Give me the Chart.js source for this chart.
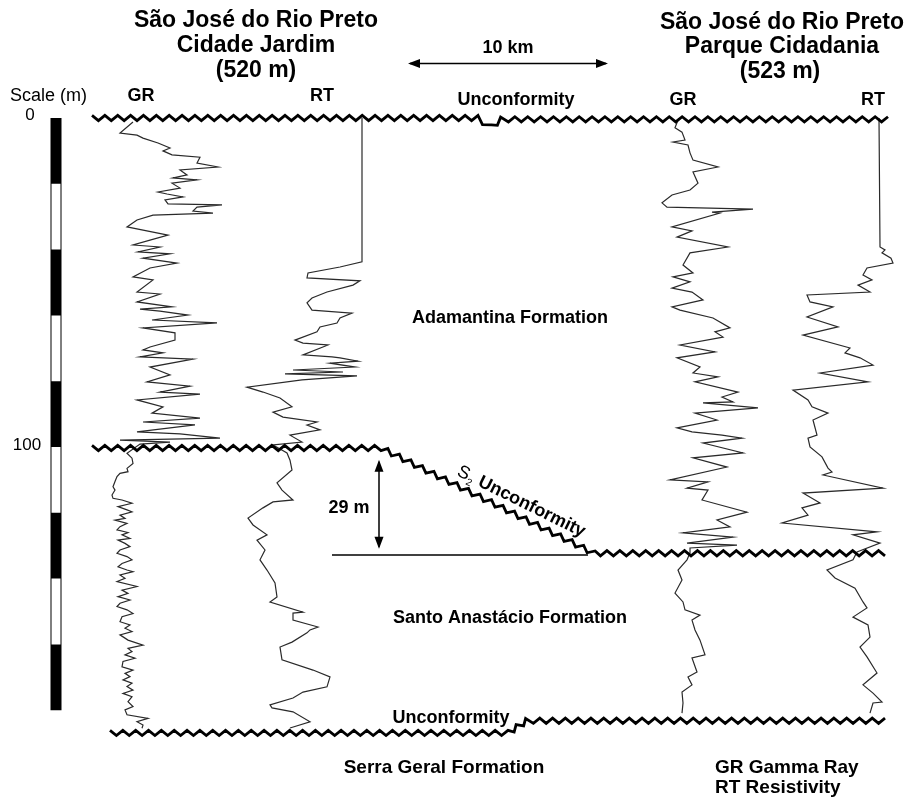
<!DOCTYPE html>
<html>
<head>
<meta charset="utf-8">
<script src="https://cdn.jsdelivr.net/npm/chart.js@4.4.1/dist/chart.umd.min.js"></script>
<style>
html,body{margin:0;padding:0;background:#fff;}
#wrap{width:908px;height:797px;position:relative;}
</style>
</head>
<body>
<div id="wrap"><canvas id="c"></canvas></div>
<script>
// ---------------- DATA (depth in metres, log deflection in track units) ----------------
const scaleSegments = [0, 20, 40, 60, 80, 100, 120, 140, 160, 180];
const scaleTickLabels = ["0", "100"];
const scaleTickDepths = [0, 100];

// Well 1: São José do Rio Preto - Cidade Jardim
const leftGRDepth = [1.2,4.6,5.2,6.1,7.6,9.1,10.0,11.2,11.9,13.7,14.9,15.8,17.3,18.2,18.8,19.8,21.3,22.5,23.1,24.0,24.9,26.1,26.4,27.1,28.3,28.9,29.5,31.0,33.1,35.6,37.1,38.6,39.2,40.7,41.3,42.6,44.1,45.6,48.3,49.2,52.9,53.5,55.9,57.4,58.1,58.7,59.9,61.4,62.3,63.8,65.3,67.5,69.6,70.5,71.4,72.6,73.3,75.7,78.1,80.2,81.5,83.3,83.9,85.7,87.8,89.7,91.2,92.4,93.3,95.4,96.0,97.3,97.9,98.5,99.1,
  101.9,103.4,105.0,106.5,107.5,108.0,109.0,110.5,112.1,113.1,114.6,115.6,116.1,117.1,118.1,119.1,119.7,120.7,121.7,122.2,123.2,124.2,125.2,126.0,126.7,127.8,128.3,129.3,130.3,131.3,132.3,133.3,134.3,135.4,136.4,137.4,137.9,138.9,139.9,140.9,142.4,143.5,144.5,145.5,146.5,147.5,148.5,149.5,150.6,151.6,153.1,154.1,155.1,156.1,157.1,158.7,160.2,161.2,162.2,163.2,164.2,165.2,166.8,167.8,168.8,169.8,170.8,171.8,172.8,173.9,174.9,175.9,177.4,178.9,179.9,181.4,182.5,183.5,184.5,185.5];
const leftGRValue = [33,20,37,43,58,70,63,72,100,97,118,80,87,73,97,72,80,58,67,83,65,68,122,97,93,113,53,37,27,68,50,33,60,38,70,43,77,50,33,53,37,60,37,72,40,60,88,52,117,43,75,75,50,43,63,40,93,50,70,47,90,60,100,37,63,52,100,43,95,37,80,120,20,70,40,
  27,32,33,27,28,20,17,15,13,15,12,13,22,32,18,27,32,20,25,15,27,20,17,28,22,30,18,25,30,20,17,27,32,22,18,27,33,20,25,17,37,22,28,18,30,20,17,27,33,22,20,30,25,32,20,28,43,28,32,25,35,23,22,33,25,30,23,32,27,33,23,32,28,33,25,27,48,37,43,42];

const leftRTDepth = [0,43.7,45.3,47.1,48.6,49.5,50.8,52.9,54.7,56.2,58.4,59.3,60.8,62.3,63.5,65.0,67.5,68.4,69.0,72.0,72.6,72.9,73.9,74.5,75.7,76.6,77.2,77.8,78.4,79.6,81.8,83.3,85.1,87.8,89.4,90.9,92.4,93.3,94.8,96.4,98.5,99.4,
  101.8,104.0,107.0,110.9,113.1,116.1,116.7,118.5,121.6,123.7,126.7,128.3,131.3,134.3,137.4,141.3,145.6,147.1,150.2,150.5,152.6,154.7,155.6,156.5,159.3,160.8,164.7,167.8,169.9,172.9,174.5,176.3,178.4,179.3,180.5,183.5,185.4];
const leftRTValue = [122,122,100,68,67,120,113,87,72,67,72,112,100,97,80,77,55,63,88,63,92,100,118,90,115,53,103,45,117,62,7,23,40,52,33,43,77,67,80,50,62,33,
  47,50,52,37,42,53,33,23,8,13,27,17,25,20,27,35,37,30,63,53,53,78,70,67,52,40,42,73,90,87,63,53,30,32,53,70,50];

// Well 2: São José do Rio Preto - Parque Cidadania
const rightGRDepth = [0.6,3.0,4.3,6.7,7.3,8.2,10.6,12.8,14.9,16.4,19.8,21.9,23.4,25.8,27.1,27.7,28.6,28.9,33.1,34.3,36.2,39.2,41.0,44.7,47.1,48.3,49.8,51.7,52.9,55.3,57.4,58.4,60.8,63.8,65.0,66.6,69.0,71.1,72.9,75.7,77.5,78.7,80.2,83.3,84.8,86.3,86.6,88.1,89.7,91.8,94.2,95.4,96.4,97.3,98.8,101.8,103.3,106.1,110.0,110.6,112.5,113.1,116.1,119.8,122.2,124.3,126.1,127.4,129.2,129.8,130.7,
  132.2,134.3,137.4,140.4,144.4,147.1,149.5,151.1,152.6,155.6,158.7,163.2,164.1,168.4,169.9,172.3,174.5,177.8,180.9];
const rightGRValue = [28,25,32,35,23,38,40,43,68,43,48,40,22,12,17,103,62,70,22,42,27,78,40,33,43,23,40,22,42,53,22,30,63,80,65,73,30,65,27,50,43,68,45,88,72,83,53,108,45,67,27,42,72,92,53,93,43,77,20,58,37,58,52,97,67,80,33,83,37,87,40,
  40,37,28,32,25,33,35,50,42,45,50,55,42,47,38,42,32,33,32];

const rightRTDepth = [0,39.2,40.1,41.0,42.6,44.1,45.6,47.7,49.2,50.8,52.9,53.8,55.9,57.4,60.5,63.5,66.0,69.9,71.4,72.9,75.1,77.5,80.2,82.7,85.7,87.8,89.7,91.8,96.4,97.3,100.0,103.0,106.4,107.6,108.5,112.5,114.0,117.0,118.5,120.7,123.1,125.8,126.7,129.2,
  131.9,134.3,137.4,139.8,142.9,147.1,148.9,151.7,154.1,157.8,160.8,163.8,168.7,172.3,174.8,177.5,177.8,180.9];
const rightRTValue = [109,110,115,112,121,123,97,93,102,88,100,37,40,63,37,68,33,80,75,90,103,50,98,23,38,42,58,43,47,38,40,52,58,62,53,113,33,50,32,38,12,107,83,110,
  87,83,57,65,85,93,97,83,98,100,90,97,107,93,103,112,103,100];

// Unconformity surfaces: [horizontal position, depth]
const topUnconformityX = [92, 478, 490, 502, 888];
const topUnconformityDepth = [0, 0, 2.7, 0.4, 0.4];
const s2UnconformityX = [92, 381, 594, 885];
const s2UnconformityDepth = [100.3, 100.3, 132.3, 132.3];
const baseUnconformityX = [110, 508, 527, 885];
const baseUnconformityDepth = [186.9, 186.9, 183.2, 183.2];

// ---------------- LAYOUT / STYLE ----------------
const PX_PER_M = 3.29, TOP_PX = 118, H = 797, W = 908;
const tracks = { leftGR: 100, leftRT: 240, rightGR: 650, rightRT: 770 };
const FONT = "'Liberation Sans', Arial, Helvetica, sans-serif";
const LOG_COLOR = '#2a2a2a';

function curve(depths, values, base) {
  return depths.map((d, i) => ({ x: base + values[i], y: d }));
}
function pairs(xs, ds) { return xs.map((x, i) => ({ x: x, y: ds[i] })); }

const datasets = [];
// scale bar: black full bar (drawn beneath), white alternate segments on top
const SCALE_X = 56;
datasets.push({ data: [{x:SCALE_X,y:scaleSegments[0]},{x:SCALE_X,y:scaleSegments[scaleSegments.length-1]}],
  borderColor:'#000', borderWidth:11, borderCapStyle:'butt', order: 5 });
for (let i = 1; i < scaleSegments.length - 1; i += 2) {
  datasets.push({ data: [{x:SCALE_X,y:scaleSegments[i]},{x:SCALE_X,y:scaleSegments[i+1]}],
    borderColor:'#fff', borderWidth:9, borderCapStyle:'butt', order: 4 });
}
// logs
[[leftGRDepth,leftGRValue,tracks.leftGR],[leftRTDepth,leftRTValue,tracks.leftRT],
 [rightGRDepth,rightGRValue,tracks.rightGR],[rightRTDepth,rightRTValue,tracks.rightRT]].forEach(a => {
  datasets.push({ data: curve(a[0], a[1], a[2]), borderColor: LOG_COLOR, borderWidth: 1.2 });
});
// reference line (29 m datum)
datasets.push({ data: [{x:332,y:132.8},{x:588,y:132.8}], borderColor:'#000', borderWidth:1.5 });
// arrows
datasets.push({ data: [{x:379,y:104.5},{x:379,y:130.3}], borderColor:'#000', borderWidth:1.5, arrow:true });
datasets.push({ data: [{x:410,y:-16.6},{x:606,y:-16.6}], borderColor:'#000', borderWidth:1.5, arrow:true });
// unconformities (drawn as zig-zag by plugin)
[[topUnconformityX,topUnconformityDepth],[s2UnconformityX,s2UnconformityDepth],[baseUnconformityX,baseUnconformityDepth]].forEach(a => {
  datasets.push({ data: pairs(a[0], a[1]), borderColor:'rgba(0,0,0,0)', borderWidth:0, zigzag:true });
});

const labels = [
  { t:'São José do Rio Preto', x:256, y:-29.6, size:23, bold:true },
  { t:'Cidade Jardim', x:256, y:-22.0, size:23, bold:true },
  { t:'(520 m)', x:256, y:-14.4, size:23, bold:true },
  { t:'São José do Rio Preto', x:782, y:-29.0, size:23, bold:true },
  { t:'Parque Cidadania', x:782, y:-21.7, size:23, bold:true },
  { t:'(523 m)', x:780, y:-14.1, size:23, bold:true },
  { t:'10 km', x:508, y:-21.2, size:18, bold:true },
  { t:'Scale (m)', x:10, y:-6.7, size:18, bold:false, align:'left' },
  { t:'GR', x:141, y:-6.7, size:18, bold:true },
  { t:'RT', x:322, y:-6.7, size:18, bold:true },
  { t:'Unconformity', x:516, y:-5.6, size:18, bold:true },
  { t:'GR', x:683, y:-5.5, size:18, bold:true },
  { t:'RT', x:873, y:-5.5, size:18, bold:true },
  { t:'Adamantina Formation', x:510, y:60.8, size:18, bold:true },
  { t:'Santo Anastácio Formation', x:510, y:152.0, size:18, bold:true },
  { t:'29 m', x:349, y:118.5, size:18, bold:true },
  { t:'Unconformity', x:451, y:182.4, size:18, bold:true },
  { t:'Serra Geral Formation', x:444, y:197.6, size:19, bold:true },
  { t:'GR Gamma Ray', x:715, y:197.6, size:19, bold:true, align:'left' },
  { t:'RT Resistivity', x:715, y:203.7, size:19, bold:true, align:'left' }
];
scaleTickLabels.forEach((t, i) => labels.push({ t:t, x: i===0 ? 30 : 27, y: scaleTickDepths[i] - (i===0 ? 0.8 : 0.6), size:17, bold:false }));

function drawZigzag(ctx, pts, half, amp) {
  ctx.beginPath();
  let k = 0;
  for (let s = 0; s < pts.length - 1; s++) {
    const p0 = pts[s], p1 = pts[s+1];
    const dx = p1.x - p0.x, dy = p1.y - p0.y, L = Math.hypot(dx, dy);
    if (L < 0.5) continue;
    const n = Math.max(1, Math.round(L / half));
    const ux = dx / L, uy = dy / L, nx = -uy, ny = ux;
    for (let i = (s === 0 ? 0 : 1); i <= n; i++) {
      const t = i / n * L;
      const sg = (k % 2 === 0) ? -1 : 1;
      const px = p0.x + ux * t + nx * amp * sg, py = p0.y + uy * t + ny * amp * sg;
      if (k === 0) ctx.moveTo(px, py); else ctx.lineTo(px, py);
      k++;
    }
  }
  ctx.stroke();
}

function arrowHead(ctx, x, y, ux, uy, len, hw) {
  ctx.beginPath();
  ctx.moveTo(x, y);
  ctx.lineTo(x - ux*len - uy*hw, y - uy*len + ux*hw);
  ctx.lineTo(x - ux*len + uy*hw, y - uy*len - ux*hw);
  ctx.closePath();
  ctx.fill();
}

const overlay = {
  id: 'overlay',
  afterDatasetsDraw(chart) {
    const ctx = chart.ctx, xs = chart.scales.x, ys = chart.scales.y;
    ctx.save();
    chart.data.datasets.forEach((ds, i) => {
      const meta = chart.getDatasetMeta(i);
      const pts = meta.data.map(e => ({ x: e.x, y: e.y }));
      if (ds.zigzag) {
        ctx.strokeStyle = '#000'; ctx.lineWidth = 2.8; ctx.lineJoin = 'miter';
        drawZigzag(ctx, pts, 6.4, 2.6);
      }
      if (ds.arrow) {
        ctx.fillStyle = '#000';
        const a = pts[0], b = pts[1];
        const L = Math.hypot(b.x-a.x, b.y-a.y), ux = (b.x-a.x)/L, uy = (b.y-a.y)/L;
        arrowHead(ctx, b.x + ux*2, b.y + uy*2, ux, uy, 12, 4.5);
        arrowHead(ctx, a.x - ux*2, a.y - uy*2, -ux, -uy, 12, 4.5);
      }
    });
    // text labels
    ctx.fillStyle = '#000';
    ctx.textBaseline = 'middle';
    labels.forEach(l => {
      ctx.font = (l.bold ? 'bold ' : '') + l.size + 'px ' + FONT;
      ctx.textAlign = l.align || 'center';
      ctx.fillText(l.t, xs.getPixelForValue(l.x), ys.getPixelForValue(l.y));
    });
    // rotated S2 Unconformity label along the sloping surface
    const p0x = xs.getPixelForValue(s2UnconformityX[1]), p0y = ys.getPixelForValue(s2UnconformityDepth[1]);
    const p1x = xs.getPixelForValue(s2UnconformityX[2]), p1y = ys.getPixelForValue(s2UnconformityDepth[2]);
    const ang = Math.atan2(p1y - p0y, p1x - p0x);
    const startX = 452, t = (startX - p0x) / (p1x - p0x);
    const bx = p0x + (p1x - p0x) * t, by = p0y + (p1y - p0y) * t;
    ctx.translate(bx, by);
    ctx.rotate(ang);
    ctx.textAlign = 'left'; ctx.textBaseline = 'alphabetic';
    ctx.font = '18px ' + FONT;
    ctx.fillText('S', 0, -9);
    const sw = ctx.measureText('S').width;
    ctx.font = '10px ' + FONT;
    ctx.fillText('2', sw, -5);
    const s2w = ctx.measureText('2').width;
    ctx.font = 'bold 18px ' + FONT;
    ctx.fillText('Unconformity', sw + s2w + 6, -9);
    ctx.restore();
  }
};

new Chart(document.getElementById('c'), {
  type: 'scatter',
  data: { datasets: datasets.map(d => Object.assign({ showLine: true, pointRadius: 0, pointHoverRadius: 0, fill: false, tension: 0 }, d)) },
  options: {
    responsive: true, maintainAspectRatio: false, animation: false,
    layout: { padding: 0 },
    plugins: { legend: { display: false }, tooltip: { enabled: false } },
    events: [],
    scales: {
      x: { type: 'linear', min: 0, max: W, display: false },
      y: { type: 'linear', reverse: true, min: -TOP_PX / PX_PER_M, max: (H - TOP_PX) / PX_PER_M, display: false }
    }
  },
  plugins: [overlay]
});
</script>
</body>
</html>
